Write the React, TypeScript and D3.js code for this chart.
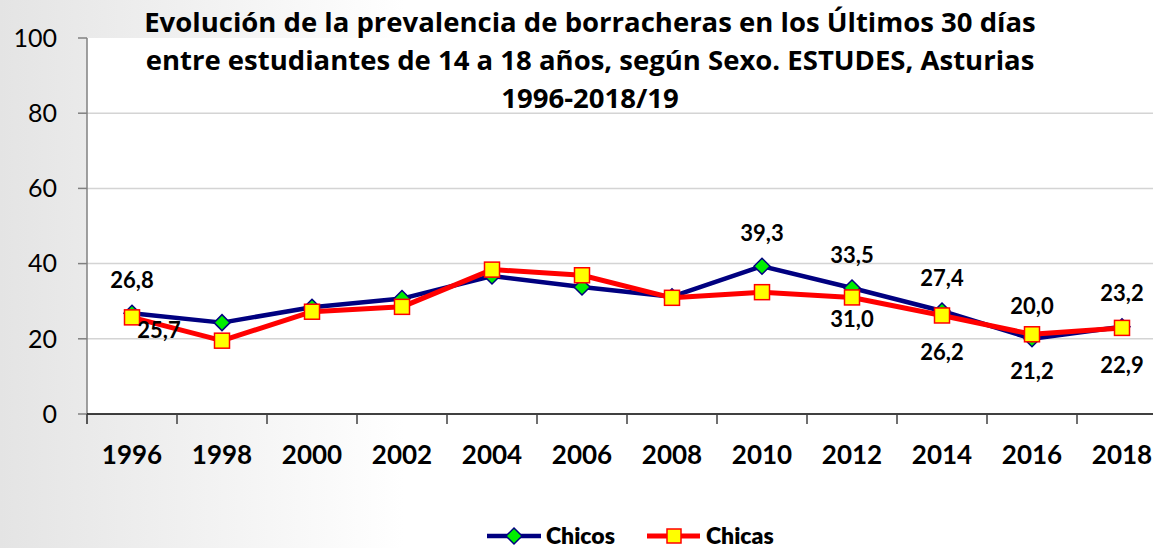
import React from "react";
import * as d3 from "d3";

// chart values
const years = ["1996", "1998", "2000", "2002", "2004", "2006", "2008", "2010", "2012", "2014", "2016", "2018"];
const chicos = [26.8, 24.3, 28.4, 30.7, 36.7, 33.8, 31.2, 39.3, 33.5, 27.4, 20.0, 23.2];
const chicas = [25.7, 19.5, 27.2, 28.5, 38.4, 36.9, 30.9, 32.4, 31.0, 26.2, 21.2, 22.9];
const yTicks = [0, 20, 40, 60, 80, 100];
const titleLines = [
  "Evolución de la prevalencia de borracheras en los Últimos 30 días",
  "entre estudiantes de 14 a 18 años, según Sexo. ESTUDES, Asturias",
  "1996-2018/19",
];
// which points carry a value label
const chicosLabelled = [0, 7, 8, 9, 10, 11];
const chicasLabelled = [0, 8, 9, 10, 11];

const W = 1153;
const H = 548;
const FONT = "Lato, 'Open Sans', sans-serif";
const TITLE_FONT = "'Open Sans', Lato, sans-serif";

const fmt = (v: number) => v.toFixed(1).replace(".", ",");

export default function App() {
  const margin = { left: 87, top: 38, bottom: 414 };
  const band = 90;

  const x = d3.scaleBand<string>()
    .domain(years)
    .range([margin.left, margin.left + band * years.length])
    .padding(0);
  const y = d3.scaleLinear().domain([0, 100]).range([margin.bottom, margin.top]);
  const cx = (i: number) => (x(years[i]) as number) + x.bandwidth() / 2;

  const line = d3.line<number>()
    .x((_, i) => cx(i))
    .y(d => y(d));

  const diamond = (px: number, py: number, r: number) =>
    `M${px},${py - r}L${px + r},${py}L${px},${py + r}L${px - r},${py}Z`;

  // label offsets (manual placement as in the source)
  const chicasOffset = (i: number) => (i === 0 ? { dx: 27, dy: 13 } : i === 8 ? { dx: 0, dy: 22 } : { dx: 0, dy: 37 });

  return (
    <svg width={W} height={H} style={{ position: "absolute", left: 0, top: 0, display: "block" }}>
      <defs>
        <linearGradient id="bg" x1="0" x2="1" y1="0" y2="0">
          <stop offset="0" stopColor="#e4e4e4" />
          <stop offset="0.35" stopColor="#ffffff" />
          <stop offset="1" stopColor="#ffffff" />
        </linearGradient>
        <clipPath id="clip">
          <rect x={0} y={0} width={W} height={H} />
        </clipPath>
      </defs>
      <rect x={0} y={0} width={W} height={H} fill="url(#bg)" />
      <rect x={margin.left} y={margin.top} width={W - margin.left} height={margin.bottom - margin.top} fill="#fff" />

      {/* gridlines */}
      {yTicks.filter(t => t > 0 && t < 100).map(t => (
        <line key={"g" + t} x1={margin.left} x2={W} y1={y(t)} y2={y(t)} stroke="#d4d4d4" strokeWidth={1.5} />
      ))}

      {/* y axis */}
      <line x1={margin.left} x2={margin.left} y1={margin.top} y2={margin.bottom + 10} stroke="#808080" strokeWidth={1.5} />
      {yTicks.map(t => (
        <g key={"y" + t}>
          <line x1={margin.left - 9} x2={margin.left} y1={y(t)} y2={y(t)} stroke="#808080" strokeWidth={1.5} />
          <text x={57} y={y(t)} dy="0.35em" textAnchor="end" fontFamily={FONT} fontSize={25} fill="#000">{t}</text>
        </g>
      ))}

      {/* x axis */}
      <line x1={margin.left} x2={W} y1={margin.bottom} y2={margin.bottom} stroke="#000" strokeWidth={1.5} />
      {years.map((yr, i) => (
        <g key={"x" + yr}>
          <line x1={x(yr)} x2={x(yr)} y1={margin.bottom} y2={margin.bottom + 10} stroke="#404040" strokeWidth={1.5} />
          <text x={cx(i)} y={455} dy="0.35em" textAnchor="middle" fontFamily={FONT} fontWeight={700} fontSize={26} fill="#000">{yr}</text>
        </g>
      ))}

      {/* series */}
      <g clipPath="url(#clip)">
        <path d={line(chicos) ?? ""} fill="none" stroke="#000080" strokeWidth={4.5} strokeLinejoin="round" />
        {chicos.map((v, i) => (
          <path key={"cd" + i} d={diamond(cx(i), y(v), 8)} fill="#00ee00" stroke="#000080" strokeWidth={1.5} />
        ))}
        <path d={line(chicas) ?? ""} fill="none" stroke="#ff0000" strokeWidth={5} strokeLinejoin="round" />
        {chicas.map((v, i) => (
          <rect key={"cs" + i} x={cx(i) - 7.5} y={y(v) - 7.5} width={15} height={15} fill="#ffff00" stroke="#ff0000" strokeWidth={1.5} />
        ))}
      </g>

      {/* value labels */}
      {chicosLabelled.map(i => (
        <text key={"lc" + i} x={cx(i)} y={y(chicos[i]) - 33} dy="0.35em" textAnchor="middle" fontFamily={FONT} fontWeight={700} fontSize={22} fill="#000">{fmt(chicos[i])}</text>
      ))}
      {chicasLabelled.map(i => {
        const o = chicasOffset(i);
        return (
          <text key={"la" + i} x={cx(i) + o.dx} y={y(chicas[i]) + o.dy} dy="0.35em" textAnchor="middle" fontFamily={FONT} fontWeight={700} fontSize={22} fill="#000">{fmt(chicas[i])}</text>
        );
      })}

      {/* title */}
      {titleLines.map((t, i) => (
        <text key={"t" + i} x={590} y={22 + i * 38} dy="0.35em" textAnchor="middle" fontFamily={TITLE_FONT} fontWeight={700} fontSize={27.5} fill="#000">{t}</text>
      ))}

      {/* legend */}
      <g>
        <line x1={487} x2={541} y1={536} y2={536} stroke="#000080" strokeWidth={4.5} />
        <path d={diamond(514, 536, 8)} fill="#00ee00" stroke="#000080" strokeWidth={1.5} />
        <text x={546} y={536} dy="0.35em" fontFamily={FONT} fontWeight={800} fontSize={23} fill="#000">Chicos</text>
        <line x1={647} x2={700} y1={536} y2={536} stroke="#ff0000" strokeWidth={5} />
        <rect x={667} y={529} width={14} height={14} fill="#ffff00" stroke="#ff0000" strokeWidth={1.5} />
        <text x={706} y={536} dy="0.35em" fontFamily={FONT} fontWeight={800} fontSize={23} fill="#000">Chicas</text>
      </g>
    </svg>
  );
}
